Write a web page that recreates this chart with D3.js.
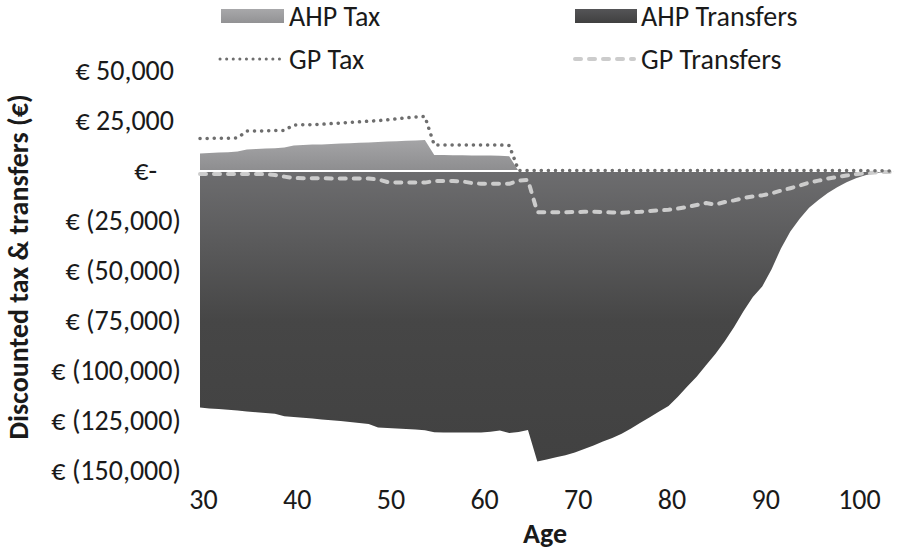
<!DOCTYPE html>
<html>
<head>
<meta charset="utf-8">
<script src="https://cdn.jsdelivr.net/npm/d3@7"></script>
<style>
  html, body { margin: 0; padding: 0; background: #fff; }
  svg { display: block; }
  text { font-family: Carlito, "Liberation Sans Narrow", "Arial Narrow", Lato, sans-serif; fill: #1a1a1a; }
</style>
</head>
<body>
<svg id="chart" width="904" height="552"></svg>
<script>
// ---------- DATA ----------
const ages = [30,31,32,33,34,35,36,37,38,39,40,41,42,43,44,45,46,47,48,49,50,51,52,53,54,
  55,56,57,58,59,60,61,62,63,64,65,66,67,68,69,70,71,72,73,74,75,76,77,78,79,
  80,81,82,83,84,85,86,87,88,89,90,91,92,93,94,95,96,97,98,99,100,101,102,103,104];

const ahpTax = [8800,9000,9200,9400,9700,10800,11000,11200,11400,11800,12800,13000,13200,13300,13500,13700,13900,14100,14300,14500,14700,14900,15100,15300,15500,
  8000,8000,7900,7900,7800,7800,7700,7600,7400,0,0,0,0,0,0,0,0,0,0,0,0,0,0,0,0,
  0,0,0,0,0,0,0,0,0,0,0,0,0,0,0,0,0,0,0,0,0,0,0,0,0];

const ahpTransfers = [-118300,-118700,-119000,-119400,-119800,-120200,-120600,-121000,-121400,-122600,-123000,-123400,-123800,-124200,-124600,-125000,-125500,-126000,-126500,-128200,-128500,-128800,-129000,-129300,-129600,
  -130600,-130700,-130800,-130800,-130700,-130800,-130400,-129800,-131000,-130500,-129500,-145300,-144200,-143100,-142100,-140800,-139000,-137200,-135300,-133500,-131400,-128700,-125900,-123100,-120300,
  -117500,-112900,-107800,-102900,-97100,-91500,-85100,-78000,-70100,-63000,-57700,-49100,-38700,-30300,-23900,-18400,-14500,-11000,-8100,-5600,-3600,-2100,-1100,-450,-100];

const gpTax = [16300,16300,16400,16400,16500,20000,20000,20100,20200,20300,23000,23100,23200,23400,23700,24000,24300,24600,24900,25200,25600,26100,26600,27000,27300,
  13000,13000,13000,13000,13000,13000,13000,13000,12800,300,300,300,300,300,300,300,300,300,300,300,300,300,300,300,300,
  300,300,300,300,300,300,300,300,300,300,300,300,300,300,300,300,300,300,300,300,300,200,100,100,0];

const gpTransfers = [-1500,-1500,-1500,-1500,-1500,-1500,-1500,-1600,-2000,-2800,-3500,-3600,-3600,-3600,-3700,-3700,-3700,-3700,-3800,-4200,-5500,-5800,-5800,-5800,-5800,
  -5000,-5000,-5000,-5200,-6000,-6400,-6400,-6400,-6400,-4800,-4500,-20600,-20600,-20600,-20600,-20500,-20400,-20400,-20500,-20700,-20900,-20600,-20400,-20000,-19700,
  -19400,-18800,-18000,-17000,-16000,-16800,-15500,-14700,-13500,-12700,-12200,-11200,-9800,-8600,-7300,-5800,-4800,-3800,-3000,-2300,-1600,-1100,-800,-500,-400];

const xTicks = [30,40,50,60,70,80,90,100];
const yTicks = [50000,25000,0,-25000,-50000,-75000,-100000,-125000,-150000];
const seriesNames = ["AHP Tax","AHP Transfers","GP Tax","GP Transfers"];
const xTitle = "Age";
const yTitle = "Discounted tax & transfers (€)";

// ---------- CHART ----------
const svg = d3.select("#chart");
const x = d3.scaleLinear().domain([30, 104]).range([200, 893.4]);
const y = d3.scaleLinear().domain([-150000, 50000]).range([471, 71]);

const defs = svg.append("defs");
const gT = defs.append("linearGradient").attr("id","gTrans")
  .attr("gradientUnits","userSpaceOnUse").attr("x1",0).attr("x2",0)
  .attr("y1", y(0)).attr("y2", y(-150000));
gT.append("stop").attr("offset","0%").attr("stop-color","#6d6d6f");
gT.append("stop").attr("offset","50%").attr("stop-color","#464646");
gT.append("stop").attr("offset","100%").attr("stop-color","#414141");

const gX = defs.append("linearGradient").attr("id","gTax")
  .attr("gradientUnits","userSpaceOnUse").attr("x1",0).attr("x2",0)
  .attr("y1", y(16000)).attr("y2", y(0));
gX.append("stop").attr("offset","0%").attr("stop-color","#a5a5a7");
gX.append("stop").attr("offset","100%").attr("stop-color","#8d8d8f");

const gLT = defs.append("linearGradient").attr("id","gLegTrans").attr("x1",0).attr("x2",0).attr("y1",0).attr("y2",1);
gLT.append("stop").attr("offset","0%").attr("stop-color","#555557");
gLT.append("stop").attr("offset","100%").attr("stop-color","#404040");
const gLX = defs.append("linearGradient").attr("id","gLegTax").attr("x1",0).attr("x2",0).attr("y1",0).attr("y2",1);
gLX.append("stop").attr("offset","0%").attr("stop-color","#a8a8aa");
gLX.append("stop").attr("offset","100%").attr("stop-color","#929294");

const idx = d3.range(ages.length);
const area = vals => d3.area().x(i => x(ages[i])).y0(y(0)).y1(i => y(vals[i]));
const line = vals => d3.line().x(i => x(ages[i])).y(i => y(vals[i]));

svg.append("path").datum(idx).attr("d", area(ahpTransfers)).attr("fill","url(#gTrans)");
svg.append("path").datum(idx).attr("d", area(ahpTax)).attr("fill","url(#gTax)");

// horizontal category axis line at zero
svg.append("line").attr("x1", x(30) - 2).attr("x2", x(104)).attr("y1", y(0)).attr("y2", y(0))
  .attr("stroke","#ffffff").attr("stroke-width",2);

svg.append("path").datum(idx).attr("d", line(gpTransfers))
  .attr("fill","none").attr("stroke","#cccccc").attr("stroke-width",4)
  .attr("stroke-dasharray","6 8").attr("stroke-linecap","round").attr("stroke-linejoin","round");
svg.append("path").datum(idx).attr("d", line(gpTax))
  .attr("fill","none").attr("stroke","#6e6e6e").attr("stroke-width",3.5)
  .attr("stroke-dasharray","0.1 7").attr("stroke-linecap","round").attr("stroke-linejoin","round");

// y axis
const fmt = v => v === 0 ? "€-" : (v > 0 ? "€ " + d3.format(",")(v) : "€ (" + d3.format(",")(-v) + ")");
const yAxis = svg.append("g").attr("transform","translate(181,0)")
  .call(d3.axisLeft(y).tickValues(yTicks).tickFormat(fmt).tickSize(0).tickPadding(0));
yAxis.select(".domain").remove();
yAxis.selectAll("text").attr("font-size", 28).attr("fill","#1a1a1a")
  .attr("font-family", null)
  .attr("dx", d => d === 0 ? -24 : (d > 0 ? -7 : 0));

// x axis
const xAxis = svg.append("g").attr("transform","translate(3,489)")
  .call(d3.axisBottom(x).tickValues(xTicks).tickFormat(d3.format("d")).tickSize(0).tickPadding(0));
xAxis.select(".domain").remove();
xAxis.selectAll("text").attr("font-size", 28).attr("fill","#1a1a1a").attr("font-family", null);

// titles
svg.append("text").attr("x", 545).attr("y", 543).attr("text-anchor","middle")
  .attr("font-size", 28).attr("font-weight","bold").text(xTitle);
svg.append("text").attr("transform","translate(28,267) rotate(-90)").attr("text-anchor","middle")
  .attr("font-size", 28).attr("font-weight","bold").text(yTitle);

// legend
const leg = svg.append("g");
leg.append("rect").attr("x",221).attr("y",9).attr("width",63).attr("height",14).attr("fill","url(#gLegTax)");
leg.append("rect").attr("x",575).attr("y",9).attr("width",62).attr("height",14).attr("fill","url(#gLegTrans)");
leg.append("line").attr("x1",220).attr("x2",281).attr("y1",59).attr("y2",59)
  .attr("stroke","#6e6e6e").attr("stroke-width",3).attr("stroke-dasharray","0.1 6.5").attr("stroke-linecap","round");
leg.append("line").attr("x1",575).attr("x2",634).attr("y1",59).attr("y2",59)
  .attr("stroke","#cccccc").attr("stroke-width",4).attr("stroke-dasharray","6 8").attr("stroke-linecap","round");
const legPos = [[289,16],[641,16],[289,59],[641,59]];
seriesNames.forEach((n,i) => {
  leg.append("text").attr("x", legPos[i][0]).attr("y", legPos[i][1]).attr("dy","0.35em")
    .attr("font-size", 28).text(n);
});
</script>
</body>
</html>
